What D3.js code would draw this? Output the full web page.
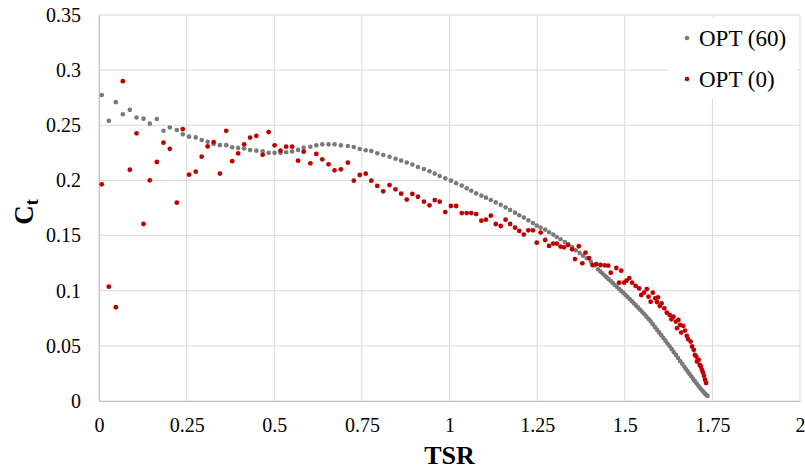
<!DOCTYPE html>
<html>
<head>
<meta charset="utf-8">
<script src="https://cdn.jsdelivr.net/npm/d3@7"></script>
<style>
  body { margin: 0; background: #fff; }
</style>
</head>
<body>
<div id="chart"></div>
<script>
// OPT (60) - grey
const tsr60 = [0.008, 0.028, 0.048, 0.068, 0.088, 0.107, 0.127, 0.145, 0.165, 0.184, 0.202, 0.222, 0.239, 0.257, 0.276, 0.293, 0.31, 0.327, 0.345, 0.363, 0.38, 0.397, 0.414, 0.431, 0.449, 0.467, 0.484, 0.501, 0.518, 0.534, 0.551, 0.568,
  0.584, 0.603, 0.62, 0.637, 0.655, 0.672, 0.69, 0.71, 0.727, 0.744, 0.761, 0.777, 0.794, 0.811, 0.829, 0.846, 0.862, 0.878, 0.894, 0.91, 0.927, 0.943, 0.958, 0.972, 0.988, 1.004, 1.019, 1.035, 1.049, 1.062, 1.076, 1.091, 1.104, 1.118, 1.132, 1.146, 1.16, 1.173, 1.187, 1.199, 1.212, 1.225, 1.238, 1.249, 1.26, 1.273, 1.284, 1.296, 1.306, 1.317, 1.329, 1.339, 1.35, 1.36, 1.371, 1.381, 1.392, 1.403, 1.414, 1.424,
  1.43, 1.436, 1.442, 1.448, 1.454, 1.46, 1.466, 1.472, 1.478, 1.484, 1.49, 1.496, 1.502, 1.508, 1.514, 1.52, 1.526, 1.532, 1.538, 1.544, 1.55, 1.556, 1.562, 1.568, 1.574, 1.58, 1.586, 1.592, 1.598, 1.604, 1.61, 1.616, 1.622, 1.628, 1.634, 1.64, 1.646, 1.652, 1.658, 1.664, 1.67, 1.675, 1.68, 1.685, 1.69, 1.695, 1.7, 1.705, 1.71, 1.714, 1.718, 1.722, 1.726, 1.73, 1.733, 1.736];
const ct60 = [0.2775, 0.254, 0.271, 0.26, 0.264, 0.257, 0.256, 0.2515, 0.2557, 0.245, 0.248, 0.2457, 0.2418, 0.2397, 0.239, 0.2367, 0.235, 0.233, 0.232, 0.232, 0.23, 0.2295, 0.229, 0.2275, 0.227, 0.2265, 0.225, 0.225, 0.225, 0.2256, 0.2262, 0.2277,
  0.2297, 0.2306, 0.2318, 0.2327, 0.2327, 0.2327, 0.2318, 0.2312, 0.2303, 0.2285, 0.2273, 0.2267, 0.2246, 0.223, 0.2215, 0.2197, 0.218, 0.2162, 0.2144, 0.2122, 0.2104, 0.2083, 0.2062, 0.204, 0.2019, 0.1998, 0.1974, 0.1953, 0.1928, 0.1907, 0.1883, 0.1862, 0.1844, 0.1822, 0.1801, 0.178, 0.1756, 0.1732, 0.1708, 0.1684, 0.1663, 0.1638, 0.1614, 0.159, 0.1572, 0.1554, 0.153, 0.1509, 0.1487, 0.1466, 0.1442, 0.1421, 0.1397, 0.1367, 0.1343, 0.1318, 0.1294, 0.1264, 0.1228, 0.1195,
  0.1175, 0.1158, 0.114, 0.1123, 0.1105, 0.1088, 0.107, 0.1052, 0.1034, 0.1016, 0.0998, 0.098, 0.0962, 0.0944, 0.0925, 0.0906, 0.0887, 0.0867, 0.0847, 0.0827, 0.0806, 0.0786, 0.0765, 0.0743, 0.0722, 0.0697, 0.0672, 0.0647, 0.0622, 0.0597, 0.0572, 0.0547, 0.0522, 0.0497, 0.047, 0.0443, 0.0416, 0.039, 0.0363, 0.0337, 0.031, 0.0288, 0.0266, 0.0245, 0.0223, 0.0201, 0.018, 0.0159, 0.0138, 0.0122, 0.0107, 0.0093, 0.0078, 0.0064, 0.0054, 0.0045];

// OPT (0) - red
const tsr0 = [0.008, 0.028, 0.048, 0.068, 0.088, 0.107, 0.127, 0.145, 0.165, 0.184, 0.202, 0.222, 0.239, 0.257, 0.276, 0.293, 0.31, 0.327, 0.345, 0.363, 0.38, 0.397, 0.414, 0.431, 0.449, 0.467, 0.484, 0.501, 0.518, 0.534, 0.551, 0.568,
  0.584, 0.603, 0.62, 0.637, 0.655, 0.672, 0.69, 0.71, 0.727, 0.744, 0.761, 0.777, 0.794, 0.811, 0.829, 0.846, 0.862, 0.878, 0.894, 0.91, 0.927, 0.943, 0.958, 0.972, 0.988, 1.004, 1.019, 1.035, 1.049, 1.062, 1.076, 1.091, 1.104, 1.118, 1.132, 1.146, 1.16, 1.173, 1.187, 1.199, 1.212, 1.225, 1.238, 1.249, 1.26, 1.273, 1.284, 1.296, 1.306, 1.317, 1.327, 1.338, 1.35, 1.358, 1.369, 1.379, 1.388, 1.398, 1.408, 1.419, 1.431, 1.443, 1.453,
  1.46, 1.476, 1.484, 1.49, 1.498, 1.505, 1.513, 1.521, 1.531, 1.541, 1.547, 1.555, 1.563, 1.568, 1.574, 1.58, 1.587, 1.592, 1.595, 1.6, 1.605, 1.613, 1.62, 1.628, 1.633, 1.639, 1.646, 1.649, 1.653, 1.658, 1.661, 1.667, 1.672, 1.677, 1.681, 1.688, 1.692, 1.697, 1.7, 1.704, 1.706, 1.711, 1.714, 1.717, 1.72, 1.723, 1.726, 1.729, 1.732];
const ct0 = [0.1965, 0.1037, 0.085, 0.29, 0.2097, 0.2427, 0.1605, 0.2001, 0.2167, 0.2342, 0.2287, 0.1798, 0.2466, 0.2052, 0.2079, 0.2215, 0.2308, 0.2348, 0.2062, 0.245, 0.2175, 0.2245, 0.2327, 0.2389, 0.2404, 0.2232, 0.2438, 0.2318, 0.227, 0.2306, 0.2306, 0.2179,
  0.2261, 0.2155, 0.224, 0.2191, 0.2146, 0.2092, 0.2101, 0.2161, 0.1998, 0.2049, 0.2061, 0.1998, 0.195, 0.1901, 0.1958, 0.1919, 0.188, 0.1826, 0.1877, 0.1852, 0.1807, 0.1774, 0.1822, 0.1807, 0.1713, 0.1768, 0.1768, 0.1704, 0.1704, 0.1704, 0.1695, 0.1635, 0.1644, 0.168, 0.1605, 0.1587, 0.1644, 0.1605, 0.1572, 0.1542, 0.1509, 0.1548, 0.1548, 0.1436, 0.1527, 0.146, 0.1406, 0.1427, 0.1427, 0.14, 0.1393, 0.1414, 0.1375, 0.1287, 0.1403, 0.1248, 0.1345, 0.1296, 0.1233, 0.1242, 0.1233, 0.123, 0.1227,
  0.1163, 0.1206, 0.1073, 0.1182, 0.1073, 0.1091, 0.1115, 0.1073, 0.1043, 0.1021, 0.0961, 0.0982, 0.1015, 0.0946, 0.09, 0.0982, 0.0931, 0.0897, 0.094, 0.0861, 0.0885, 0.084, 0.0801, 0.078, 0.0741, 0.0765, 0.072, 0.066, 0.0735, 0.069, 0.062, 0.0681, 0.0639, 0.059, 0.056, 0.0539, 0.0494, 0.0464, 0.0418, 0.0403, 0.0358, 0.0373, 0.0328, 0.0313, 0.0283, 0.0259, 0.0229, 0.0193, 0.0163];

const xTicks = [0, 0.25, 0.5, 0.75, 1, 1.25, 1.5, 1.75, 2];
const yTicks = [0, 0.05, 0.1, 0.15, 0.2, 0.25, 0.3, 0.35];
const seriesNames = ["OPT (60)", "OPT (0)"];
const seriesColors = ["#7a7a7a", "#c00000"];

const FONT = "'Liberation Serif', 'Times New Roman', Times, serif";

const W = 805, H = 470;
const margin = { top: 15, right: 5, bottom: 69, left: 99 };
const width = W - margin.left - margin.right,
      height = H - margin.top - margin.bottom;

const svg = d3.select("#chart").append("svg")
  .attr("width", W)
  .attr("height", H)
  .attr("font-family", FONT);

const g = svg.append("g").attr("transform", `translate(${margin.left},${margin.top})`);

const x = d3.scaleLinear().domain([0, 2]).range([0, width]);
const y = d3.scaleLinear().domain([0, 0.35]).range([height, 0]);

// gridlines
g.append("g")
  .selectAll("line")
  .data(xTicks)
  .join("line")
  .attr("x1", d => x(d)).attr("x2", d => x(d))
  .attr("y1", 0).attr("y2", height)
  .attr("stroke", "#d9d9d9");

g.append("g")
  .selectAll("line")
  .data(yTicks)
  .join("line")
  .attr("x1", 0).attr("x2", width)
  .attr("y1", d => y(d)).attr("y2", d => y(d))
  .attr("stroke", "#d9d9d9");

// axes (labels only)
const xAxis = g.append("g")
  .attr("transform", `translate(0,${height})`)
  .call(d3.axisBottom(x).tickValues(xTicks).tickSize(0).tickPadding(17).tickFormat(d3.format("")))
  .attr("font-family", null)
  .attr("font-size", 20);
xAxis.select(".domain").attr("stroke", "#bfbfbf");

const yAxis = g.append("g")
  .call(d3.axisLeft(y).tickValues(yTicks).tickSize(0).tickPadding(18).tickFormat(d3.format("")))
  .attr("font-family", null)
  .attr("font-size", 20);
yAxis.select(".domain").attr("stroke", "#bfbfbf");

// points
const data60 = tsr60.map((t, i) => ({ x: t, y: ct60[i] }));
const data0 = tsr0.map((t, i) => ({ x: t, y: ct0[i] }));

g.append("g").selectAll("circle")
  .data(data60)
  .join("circle")
  .attr("cx", d => x(d.x))
  .attr("cy", d => y(d.y))
  .attr("r", 2.3)
  .attr("fill", seriesColors[0]);

g.append("g").selectAll("circle")
  .data(data0)
  .join("circle")
  .attr("cx", d => x(d.x))
  .attr("cy", d => y(d.y))
  .attr("r", 2.4)
  .attr("fill", seriesColors[1]);

// legend
const legend = svg.append("g").attr("transform", "translate(668,17)");
legend.append("rect")
  .attr("width", 129).attr("height", 81)
  .attr("fill", "#fff");
seriesNames.forEach((name, i) => {
  const row = legend.append("g").attr("transform", `translate(0,${21 + i * 41})`);
  row.append("circle").attr("cx", 19).attr("cy", 0).attr("r", 2.3).attr("fill", seriesColors[i]);
  row.append("text").attr("x", 31).attr("y", 0).attr("dy", "0.35em")
    .attr("font-size", 23).text(name);
});

// axis titles
svg.append("text")
  .attr("x", margin.left + x(1))
  .attr("y", 464)
  .attr("text-anchor", "middle")
  .attr("font-size", 26)
  .attr("font-weight", "bold")
  .text("TSR");

const yt = svg.append("text")
  .attr("transform", `translate(33,212) rotate(-90)`)
  .attr("text-anchor", "middle")
  .attr("font-size", 27)
  .attr("font-weight", "bold");
yt.append("tspan").text("C");
yt.append("tspan").attr("dy", 5).attr("font-size", 18).text("t");
</script>
</body>
</html>
